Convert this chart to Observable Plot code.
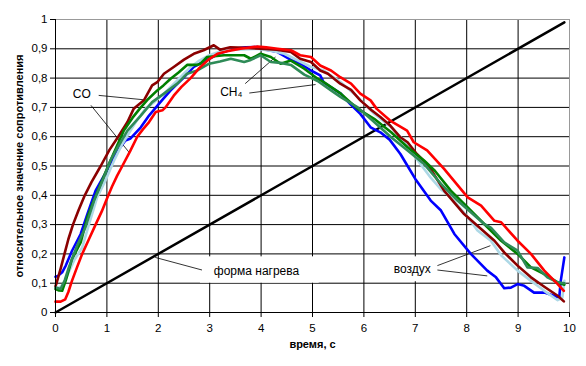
<!DOCTYPE html>
<html><head><meta charset="utf-8">
<script src="https://cdn.jsdelivr.net/npm/d3@7"></script>
<script src="https://cdn.jsdelivr.net/npm/@observablehq/plot@0.6"></script>
<style>
body{margin:0;background:#fff}
svg{font-family:"Liberation Sans",Arial,sans-serif}
</style>
</head><body><div id="chart"></div>
<script>
// ---- axis ticks / labels ----
const xTicks = [0,1,2,3,4,5,6,7,8,9,10];
const yTicks = [0,0.1,0.2,0.3,0.4,0.5,0.6,0.7,0.8,0.9,1];
const yTickLabels = ["0","0,1","0,2","0,3","0,4","0,5","0,6","0,7","0,8","0,9","1"];
const xTitle = "время, с";
const yTitle = "относительное значение сопротивления";

// ---- series ----
const seriesNames = ["blue","lightblue","darkred","green","seagreen","red"];
const seriesColors = ["#0000FF","#3F76FF","#990000","#119911","#339966","#FF0000"];

const darkredX = [0,0.02,0.1,0.175,0.25,0.34,0.45,0.57,0.7,0.88,1.05,1.22,1.4,1.52,1.72,1.88,1.98,2.11,2.3,2.5,2.69,2.88,3.08,3.2,3.4,3.7,4.0,4.3,4.58,4.76,4.97,5.15,5.3,5.54,5.75,5.93,6.15,6.32,6.5,6.71,6.85,7.03,7.26,7.56,7.95,8.28,8.54,8.73,8.99,9.25,9.51,9.77,9.89];
const darkredY = [0.09,0.1,0.15,0.2,0.25,0.3,0.35,0.4,0.445,0.5,0.555,0.6,0.65,0.695,0.724,0.775,0.786,0.815,0.838,0.863,0.883,0.895,0.912,0.897,0.905,0.903,0.9,0.897,0.889,0.866,0.855,0.826,0.815,0.781,0.76,0.724,0.69,0.667,0.64,0.598,0.581,0.541,0.501,0.416,0.336,0.285,0.245,0.205,0.16,0.12,0.088,0.057,0.038];

const redX = [0,0.1,0.19,0.25,0.32,0.42,0.52,0.65,0.78,0.9,1.0,1.1,1.2,1.3,1.45,1.59,1.7,1.82,1.95,2.08,2.14,2.3,2.45,2.63,2.8,2.99,3.15,3.34,3.6,3.93,4.1,4.32,4.58,4.76,4.97,5.15,5.36,5.54,5.75,5.93,6.13,6.25,6.51,6.84,6.97,7.23,7.56,8.02,8.28,8.54,8.67,8.99,9.25,9.51,9.77,9.89];
const redY = [0.037,0.037,0.045,0.07,0.108,0.155,0.2,0.25,0.3,0.345,0.388,0.43,0.467,0.5,0.55,0.6,0.625,0.65,0.684,0.69,0.7,0.74,0.77,0.8,0.835,0.865,0.883,0.892,0.9,0.908,0.905,0.9,0.895,0.878,0.872,0.843,0.826,0.803,0.781,0.747,0.724,0.695,0.655,0.621,0.581,0.553,0.49,0.393,0.365,0.313,0.308,0.245,0.2,0.143,0.097,0.074];

const blueX = [0,0.05,0.13,0.2,0.32,0.49,0.62,0.78,1.0,1.04,1.2,1.36,1.46,1.66,1.82,2.04,2.24,2.5,2.69,2.99,3.2,3.47,3.7,3.93,4.1,4.32,4.58,4.77,4.97,5.15,5.22,5.55,5.73,5.93,6.13,6.32,6.5,6.71,6.85,7.0,7.3,7.5,7.76,8.08,8.4,8.57,8.73,8.86,8.99,9.12,9.31,9.51,9.7,9.8,9.83,9.9];
const blueY = [0.122,0.125,0.137,0.16,0.21,0.268,0.336,0.416,0.484,0.5,0.55,0.587,0.594,0.632,0.672,0.718,0.758,0.803,0.838,0.866,0.885,0.9,0.905,0.906,0.897,0.889,0.862,0.849,0.826,0.809,0.785,0.747,0.712,0.678,0.632,0.615,0.59,0.541,0.5,0.456,0.382,0.348,0.268,0.2,0.143,0.12,0.083,0.085,0.097,0.091,0.068,0.068,0.057,0.051,0.108,0.188];

const lightblueX = [0,0.08,0.16,0.25,0.36,0.52,0.65,0.81,0.97,1.14,1.3,1.46,1.6,1.75,1.9,2.11,2.37,2.63,2.8,2.99,3.28,3.6,3.93,4.2,4.45,4.58,4.97,5.22,5.55,5.88,6.2,6.53,6.78,7.0,7.3,7.5,7.68,8.0,8.21,8.47,8.67,8.99,9.25,9.51,9.77,9.86,9.9];
const lightblueY = [0.085,0.085,0.097,0.135,0.177,0.222,0.3,0.393,0.45,0.519,0.575,0.621,0.66,0.695,0.715,0.747,0.792,0.838,0.86,0.878,0.895,0.898,0.9,0.893,0.883,0.872,0.838,0.826,0.786,0.735,0.678,0.632,0.587,0.53,0.46,0.42,0.395,0.33,0.28,0.245,0.195,0.143,0.108,0.074,0.042,0.05,0.108];

const greenX = [0,0.07,0.13,0.2,0.32,0.49,0.62,0.75,0.88,1.04,1.2,1.33,1.5,1.66,1.8,1.98,2.1,2.24,2.4,2.56,2.75,2.82,2.95,3.28,3.5,3.67,3.8,3.99,4.19,4.38,4.58,4.84,5.1,5.22,5.55,5.88,6.2,6.53,6.85,7.17,7.38,7.69,8.02,8.34,8.67,8.99,9.25,9.51,9.77,9.9];
const greenY = [0.08,0.075,0.074,0.11,0.182,0.239,0.325,0.385,0.439,0.507,0.57,0.621,0.665,0.7,0.728,0.758,0.775,0.798,0.82,0.845,0.845,0.849,0.872,0.878,0.878,0.878,0.866,0.883,0.872,0.849,0.86,0.832,0.798,0.786,0.747,0.695,0.661,0.615,0.564,0.519,0.484,0.416,0.359,0.302,0.245,0.2,0.154,0.131,0.103,0.095];

const seagreenX = [0,0.1,0.18,0.26,0.42,0.58,0.75,0.94,1.07,1.23,1.4,1.66,1.88,2.11,2.37,2.56,2.76,2.99,3.2,3.41,3.67,3.8,3.99,4.19,4.38,4.58,4.84,5.1,5.36,5.55,5.88,6.2,6.53,6.85,7.17,7.5,7.82,8.08,8.34,8.47,8.73,8.99,9.18,9.38,9.57,9.77,9.9];
const seagreenY = [0.085,0.08,0.11,0.154,0.228,0.29,0.382,0.461,0.519,0.57,0.621,0.672,0.718,0.747,0.781,0.815,0.826,0.849,0.857,0.866,0.855,0.862,0.878,0.855,0.852,0.845,0.812,0.79,0.758,0.735,0.7,0.65,0.598,0.553,0.507,0.439,0.382,0.342,0.302,0.29,0.239,0.211,0.154,0.152,0.12,0.103,0.1];

// heating form (straight line)
const heatX = [0, 9.9];
const heatY = [0, 0.99];

// ---- build table ----
const seriesX = {darkred: darkredX, red: redX, blue: blueX, lightblue: lightblueX, green: greenX, seagreen: seagreenX};
const seriesY = {darkred: darkredY, red: redY, blue: blueY, lightblue: lightblueY, green: greenY, seagreen: seagreenY};
const rows = [];
for (const s of seriesNames) seriesX[s].forEach((x, i) => rows.push({series: s, x, y: seriesY[s][i]}));
const heat = heatX.map((x, i) => ({x, y: heatY[i]}));

const leaders = [
  {x1:0.84,y1:0.741,x2:1.72,y2:0.726},
  {x1:0.69,y1:0.707,x2:1.43,y2:0.547},
  {x1:3.69,y1:0.781,x2:4.28,y2:0.872},
  {x1:3.77,y1:0.749,x2:5.06,y2:0.778},
  {x1:1.94,y1:0.188,x2:2.85,y2:0.145},
  {x1:7.43,y1:0.16,x2:8.46,y2:0.228},
  {x1:7.43,y1:0.145,x2:8.40,y2:0.125}
];
const boxes = [
  {x1:2.82,x2:5.13,y1:0.10,y2:0.19},
  {x1:6.42,x2:7.43,y1:0.105,y2:0.19}
];
const notes = [
  {x:0.51,y:0.745,t:"CO"},
  {x:3.42,y:0.752,t:"CH₄"},
  {x:3.91,y:0.142,t:"форма нагрева"},
  {x:6.94,y:0.149,t:"воздух"}
];

const chart = Plot.plot({
  width: 586, height: 366,
  marginLeft: 55, marginRight: 17, marginTop: 19, marginBottom: 54,
  style: {fontFamily: '"Liberation Sans", Arial, sans-serif', fontSize: "11.5px", background: "#fff", color: "#000"},
  x: {domain: [0, 10]},
  y: {domain: [0, 1]},
  color: {domain: seriesNames, range: seriesColors},
  marks: [
    Plot.ruleX(xTicks.filter(d => d > 0 && d < 10), {stroke: "#000", strokeWidth: 1}),
    Plot.ruleY(yTicks.filter(d => d > 0 && d < 1), {stroke: "#000", strokeWidth: 1}),
    Plot.ruleY([1], {stroke: "#999", strokeWidth: 1}),
    Plot.ruleX([10], {stroke: "#999", strokeWidth: 1}),
    Plot.rect(boxes, {x1: "x1", x2: "x2", y1: "y1", y2: "y2", fill: "#fff"}),
    Plot.link(leaders, {x1: "x1", y1: "y1", x2: "x2", y2: "y2", stroke: "#000", strokeWidth: 0.8}),
    Plot.line(heat, {x: "x", y: "y", stroke: "#000", strokeWidth: 2.5}),
    Plot.line(rows, {x: "x", y: "y", z: "series", stroke: "series", strokeWidth: 2.6, strokeLinejoin: "round"}),
    Plot.ruleX([0], {stroke: "#000", strokeWidth: 1}),
    Plot.ruleY([0], {stroke: "#000", strokeWidth: 1}),
    Plot.axisX({ticks: xTicks, tickSize: 5, tickPadding: 6, label: null, tickFormat: d => String(d)}),
    Plot.axisY({ticks: yTicks, tickSize: 5, tickPadding: 3, label: null, tickFormat: d => yTickLabels[Math.round(d * 10)]}),
    Plot.text(notes, {x: "x", y: "y", text: "t", fontSize: 12, fill: "#000"}),
    Plot.text([xTitle], {frameAnchor: "bottom", dy: 35, fontWeight: "bold", fontSize: 11, fill: "#000", textAnchor: "middle"}),
    Plot.text([yTitle], {frameAnchor: "left", dx: -36, rotate: -90, fontWeight: "bold", fontSize: 11, fill: "#000", textAnchor: "middle"})
  ]
});
document.getElementById("chart").appendChild(chart);
</script>
</body></html>
